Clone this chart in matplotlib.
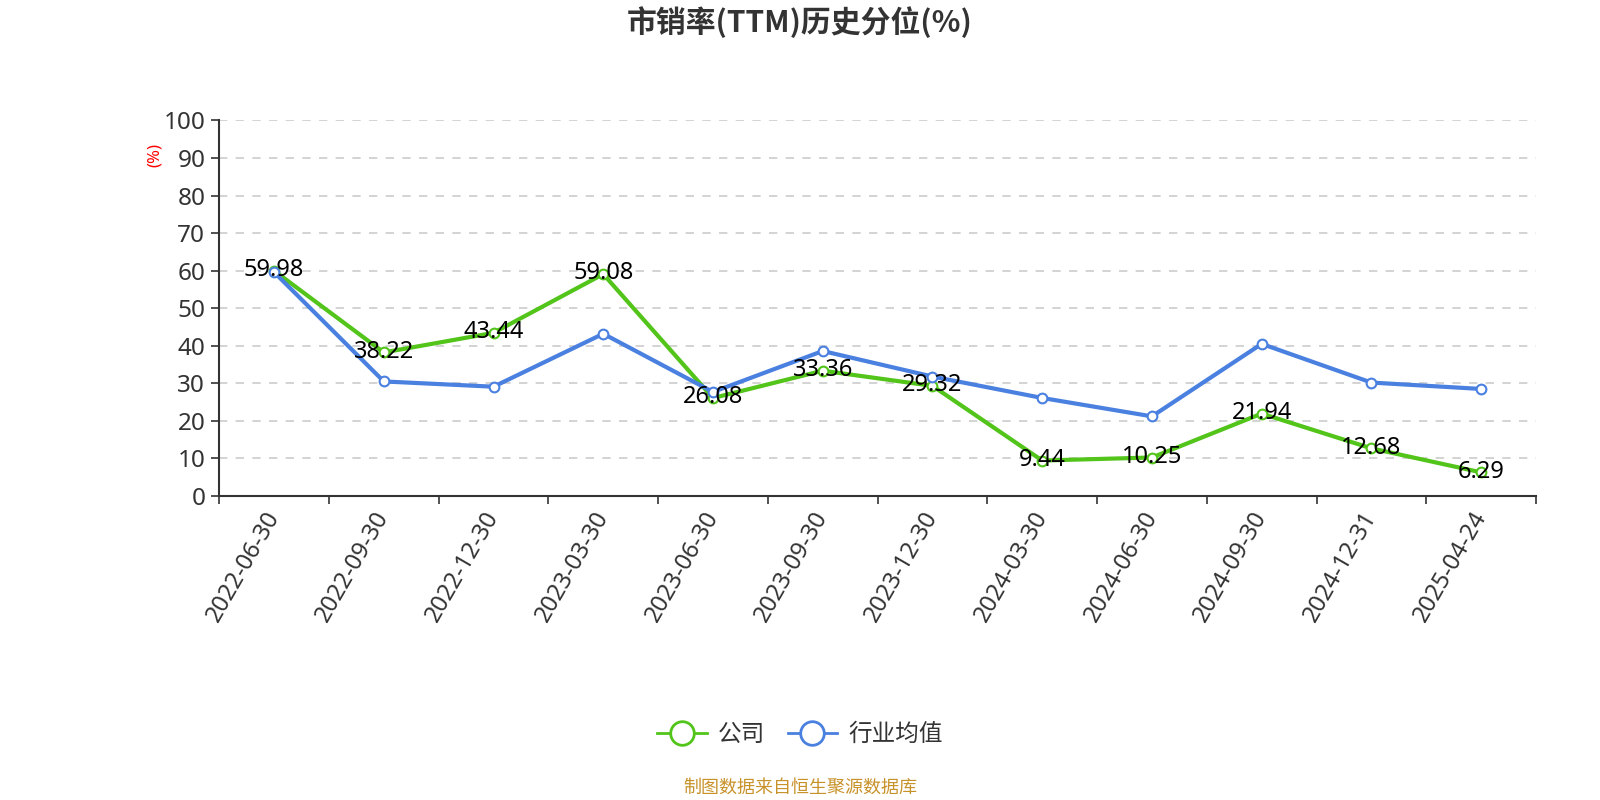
import matplotlib.pyplot as plt
from matplotlib.lines import Line2D
import numpy as np

plt.rcParams["font.family"] = ["Noto Sans", "Noto Sans CJK SC", "DejaVu Sans"]
plt.rcParams["axes.unicode_minus"] = False

dates = ["2022-06-30", "2022-09-30", "2022-12-30", "2023-03-30", "2023-06-30", "2023-09-30",
         "2023-12-30", "2024-03-30", "2024-06-30", "2024-09-30", "2024-12-31", "2025-04-24"]
company = [59.98, 38.22, 43.44, 59.08, 26.08, 33.36, 29.32, 9.44, 10.25, 21.94, 12.68, 6.29]
industry = [59.6, 30.5, 29.1, 43.2, 27.7, 38.6, 31.8, 26.1, 21.2, 40.5, 30.2, 28.5]

GREEN = "#52c41a"
BLUE = "#4a80e0"
TEXT = "#333333"
CJK = ["Noto Sans CJK SC", "DejaVu Sans"]


def main() -> None:
    fig = plt.figure(figsize=(16, 8), dpi=100)
    ax = fig.add_axes([0.137, 0.38, 0.823, 0.4695])
    x = np.arange(len(dates))

    ax.plot(x, company, color=GREEN, lw=3, marker="o", ms=7, mfc="white", mec=GREEN, mew=1.5, zorder=3)
    ax.plot(x, industry, color=BLUE, lw=3, marker="o", ms=7, mfc="white", mec=BLUE, mew=1.5, zorder=3)

    for xi, v in zip(x, company):
        ax.text(xi, v + 0.2, f"{v:.2f}", ha="center", va="center", fontsize=17, color="black", zorder=4)

    ax.set_xlim(-0.5, len(dates) - 0.5)
    ax.set_ylim(0, 100)
    ax.set_yticks(np.arange(0, 101, 10))
    ax.set_xticks(np.arange(-0.5, len(dates), 1.0))
    ax.set_xticklabels([])
    ax.set_xticks(x, minor=True)
    ax.set_xticklabels(dates, minor=True, rotation=60, ha="right", va="center", rotation_mode="anchor",
                       fontsize=17, color=TEXT)
    ax.tick_params(axis="x", which="minor", length=0, pad=12)
    ax.tick_params(axis="x", which="major", length=6, color=TEXT, width=1.2)
    ax.tick_params(axis="y", length=6, color=TEXT, width=1.2, labelsize=17.5, labelcolor=TEXT, pad=4)

    ax.grid(axis="y", color="#cccccc", linestyle=(0, (5, 5)), lw=1.2)
    ax.set_axisbelow(True)
    for side in ["top", "right"]:
        ax.spines[side].set_visible(False)
    for side in ["left", "bottom"]:
        ax.spines[side].set_color(TEXT)
        ax.spines[side].set_linewidth(1.5)

    fig.text(0.097, 0.806, "(%)", color="red", fontsize=12, rotation=90, ha="center", va="center")
    fig.text(0.5, 0.972, "市销率(TTM)历史分位(%)", ha="center", va="center", fontsize=21.5,
             fontweight="bold", color=TEXT, family=CJK)

    handles = [
        Line2D([0], [0], color=GREEN, lw=2, marker="o", ms=17, mfc="white", mec=GREEN, mew=2),
        Line2D([0], [0], color=BLUE, lw=2, marker="o", ms=17, mfc="white", mec=BLUE, mew=2),
    ]
    fig.legend(handles, ["公司", "行业均值"], loc="center", bbox_to_anchor=(0.5, 0.082), ncol=2,
               frameon=False, handlelength=2.1, columnspacing=0.95, handletextpad=0.47,
               labelcolor=TEXT, prop={"family": CJK, "size": 17})

    fig.text(0.5, 0.016, "制图数据来自恒生聚源数据库", ha="center", va="center", fontsize=13,
             color="#c8922a", family=CJK)

    fig.savefig("out.png", dpi=100)
    plt.close(fig)


if __name__ == "__main__":
    main()
